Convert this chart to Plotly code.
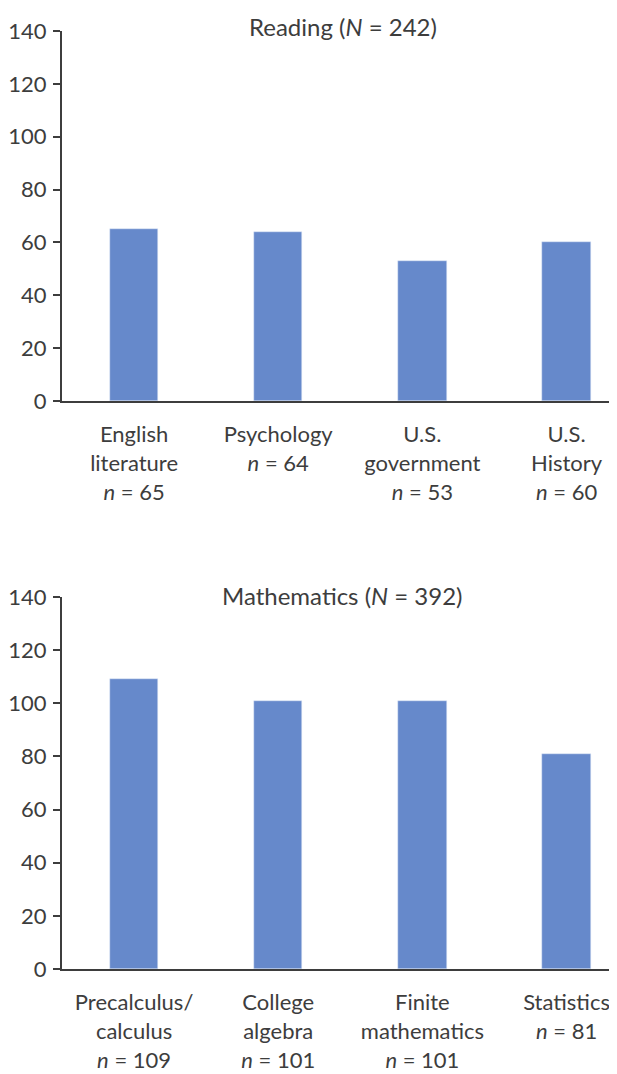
import plotly.graph_objects as go

reading_labels = ["English<br>literature<br><i>n</i> = 65",
                  "Psychology<br><i>n</i> = 64",
                  "U.S.<br>government<br><i>n</i> = 53",
                  "U.S.<br>History<br><i>n</i> = 60"]
reading_values = [65, 64, 53, 60]
reading_title = "Reading (<i>N</i> = 242)"

math_labels = ["Precalculus/<br>calculus<br><i>n</i> = 109",
               "College<br>algebra<br><i>n</i> = 101",
               "Finite<br>mathematics<br><i>n</i> = 101",
               "Statistics<br><i>n</i> = 81"]
math_values = [109, 101, 101, 81]
math_title = "Mathematics (<i>N</i> = 392)"

y_ticks = [0, 20, 40, 60, 80, 100, 120, 140]

BAR = "#6689cb"
AX = "#3d3d3d"
FONT = "Lato, 'Open Sans', sans-serif"
OFF = 8  # default page body margin
W, H = 617 - OFF, 1074 - OFF
FS = 22

fig = go.Figure()
fig.add_trace(go.Bar(x=list(range(4)), y=reading_values, marker_color=BAR,
                     width=0.335, xaxis="x", yaxis="y", showlegend=False))
fig.add_trace(go.Bar(x=list(range(4)), y=math_values, marker_color=BAR,
                     width=0.335, xaxis="x2", yaxis="y2", showlegend=False))

def ydom(top_px, bot_px):
    return [1 - (bot_px - OFF) / H, 1 - (top_px - OFF) / H]

L = 62 - OFF

xcommon = dict(range=[-0.5, 3.35], tickmode="array", tickvals=list(range(4)),
               showline=True, linecolor=AX, linewidth=2, ticks="",
               showgrid=False, zeroline=False, ticklabelstandoff=13,
               automargin=False,
               tickfont=dict(family=FONT, size=FS, color=AX))
ycommon = dict(range=[0, 140], tickmode="array", tickvals=y_ticks,
               showline=True, linecolor=AX, linewidth=2, ticks="outside",
               ticklen=7, tickwidth=2, tickcolor=AX, showgrid=False,
               zeroline=False, ticklabelstandoff=2, automargin=False,
               tickfont=dict(family=FONT, size=FS, color=AX))

def px_x(page_x):
    return (page_x - OFF - L) / (W - L)

def px_y(page_y):
    return 1 - (page_y - OFF) / H

fig.update_layout(
    width=W, height=H, plot_bgcolor="white", paper_bgcolor="white",
    margin=dict(l=L, r=0, t=0, b=0, autoexpand=False), bargap=0,
    xaxis=dict(domain=[0, 1], anchor="y", ticktext=reading_labels, **xcommon),
    yaxis=dict(domain=ydom(31, 401), anchor="x", **ycommon),
    xaxis2=dict(domain=[0, 1], anchor="y2", ticktext=math_labels, **xcommon),
    yaxis2=dict(domain=ydom(597, 969), anchor="x2", **ycommon),
    annotations=[
        dict(text=reading_title, xref="paper", yref="paper",
             x=px_x(343), y=px_y(26), xanchor="center", yanchor="middle",
             showarrow=False, font=dict(family=FONT, size=24, color=AX)),
        dict(text=math_title, xref="paper", yref="paper",
             x=px_x(342), y=px_y(595), xanchor="center", yanchor="middle",
             showarrow=False, font=dict(family=FONT, size=24, color=AX)),
    ],
)

fig.write_html("out.html")
